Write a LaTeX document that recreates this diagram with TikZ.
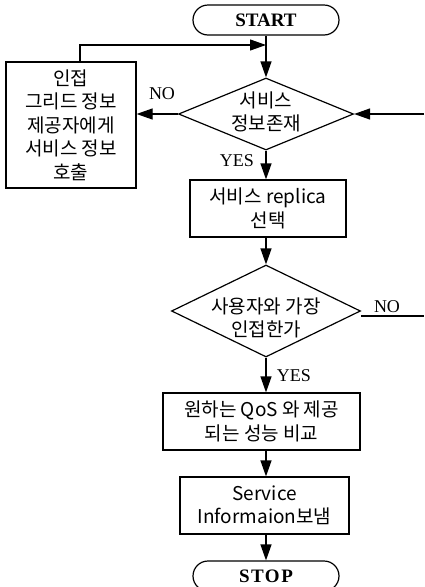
\documentclass[tikz,border=0pt]{standalone}
\usepackage{fontspec}
\setmainfont{Liberation Serif}
\newfontfamily\kr{Noto Sans CJK KR}
\usetikzlibrary{shapes.geometric,shapes.misc,arrows.meta}
\begin{document}
\begin{tikzpicture}[x=1pt,y=-1pt,
  line width=1.2pt,
  arr/.style={-{Triangle[length=16pt,width=11pt]}},
  term/.style={draw, rounded rectangle, minimum width=146pt, minimum height=30pt, inner sep=0pt, font=\fontsize{19}{19}\selectfont\bfseries},
  proc/.style={draw, inner sep=0pt, align=center, font=\kr\fontsize{19}{23.5}\selectfont},
  dec/.style={draw, diamond, inner sep=0pt},
  ktext/.style={align=center, font=\kr\fontsize{19}{23}\selectfont, inner sep=0pt},
  lab/.style={font=\fontsize{18}{18}\selectfont, inner sep=0pt}]
\clip (0,0) rectangle (424,587);
\fill[white] (0,0) rectangle (424,587);

\node[term] (start) at (266,20) {START};
\node[dec, minimum width=175pt, minimum height=72pt] (d1) at (266,114) {};
\node[ktext] (d1t) at (266,112) {서비스\\정보존재};
\node[proc, minimum width=130pt, minimum height=126pt] (b1) at (71,125) {인접\\그리드 정보\\제공자에게\\서비스 정보\\호출};
\node[proc, minimum width=156pt, minimum height=57pt] (b2) at (268,208.5) {서비스 replica\\선택};
\node[dec, minimum width=189pt, minimum height=92pt] (d2) at (266,311) {};
\node[ktext] (d2t) at (266,318) {사용자와 가장\\인접한가};
\node[proc, minimum width=197pt, minimum height=57pt] (b3) at (261.5,421.5) {원하는 QoS 와 제공\\되는 성능 비교};
\node[proc, minimum width=169pt, minimum height=57pt] (b4) at (264.5,505.5) {Service\\Informaion보냄};
\node[term] (stop) at (266,576) {\addfontfeatures{LetterSpace=8}STOP};

\node[lab] (no1) at (162,94) {NO};
\node[lab] (yes1) at (237,161) {YES};
\node[lab] (no2) at (387,307) {NO};
\node[lab] (yes2) at (294,376) {YES};

\coordinate (fb) at (80,45);
\coordinate (r1) at (424,114);
\coordinate (r2) at (424,316);

\draw[arr] (start.south) -- (d1.north);
\draw[arr] (d1.south) -- (d1.south |- b2.north);
\draw[arr] (d1.south |- b2.south) -- (d2.north);
\draw[arr] (d2.south) -- (d2.south |- b3.north);
\draw[arr] (d2.south |- b3.south) -- (d2.south |- b4.north);
\draw[arr] (d2.south |- b4.south) -- (stop.north);
\draw[arr] (d1.west) -- (b1.east |- d1.west);
\draw[arr] (fb |- b1.north) -- (fb) -- (fb -| start.south);
\draw[arr] (r1) -- (d1.east);
\draw ([yshift=-5pt]d2.east) -- (r2);
\end{tikzpicture}
\end{document}
